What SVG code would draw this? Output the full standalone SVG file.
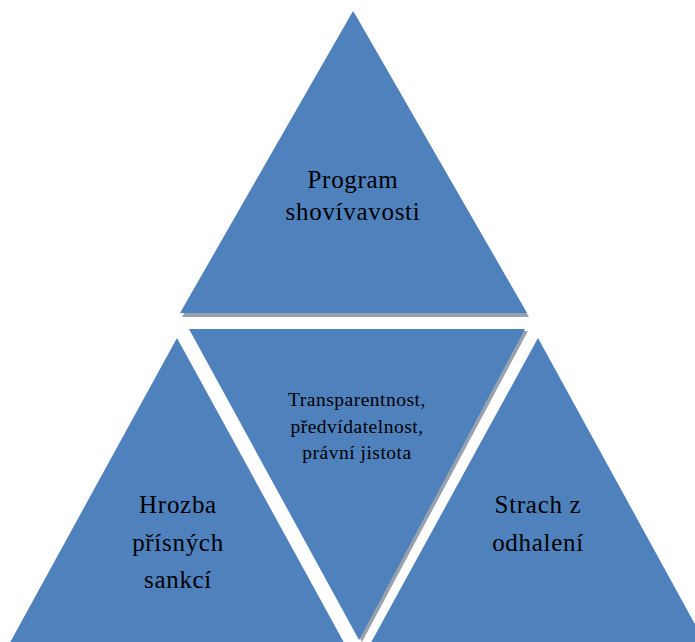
<svg xmlns="http://www.w3.org/2000/svg" width="695" height="642" viewBox="0 0 695 642">
<style>
.tri{fill:#4f81bd}
.sh{fill:#98a2ae}
.big{font-family:"Liberation Serif","Times New Roman",serif;font-size:25px;letter-spacing:0.7px;fill:#000;text-anchor:middle}
.small{font-family:"Liberation Serif","Times New Roman",serif;font-size:19.5px;letter-spacing:0.5px;fill:#000;text-anchor:middle}
</style>
<rect width="695" height="642" fill="#fff"/>
<g id="connectors"/>
<g id="top">
<polygon class="sh" points="355,14 182,317 529,317"/>
<polygon class="tri" points="353,11 180,313 527,313"/>
<text class="big" x="353" y="188">Program</text>
<text class="big" x="353" y="220">shovívavosti</text>
</g>
<g id="left">
<polygon class="tri" points="177,338 -16,690 370,690"/>
<text class="big" x="178" y="513">Hrozba</text>
<text class="big" x="178" y="551">přísných</text>
<text class="big" x="178" y="588">sankcí</text>
</g>
<g id="right">
<polygon class="tri" points="538,338 345,690 731,690"/>
<text class="big" x="538" y="513">Strach z</text>
<text class="big" x="538" y="551">odhalení</text>
</g>
<g id="middle">
<polygon class="sh" points="192,331 528,331 362,642"/>
<polygon class="tri" points="189,329 525,329 359,640"/>
<text class="small" x="357" y="406">Transparentnost,</text>
<text class="small" x="357" y="433">předvídatelnost,</text>
<text class="small" x="357" y="459">právní jistota</text>
</g>
</svg>
